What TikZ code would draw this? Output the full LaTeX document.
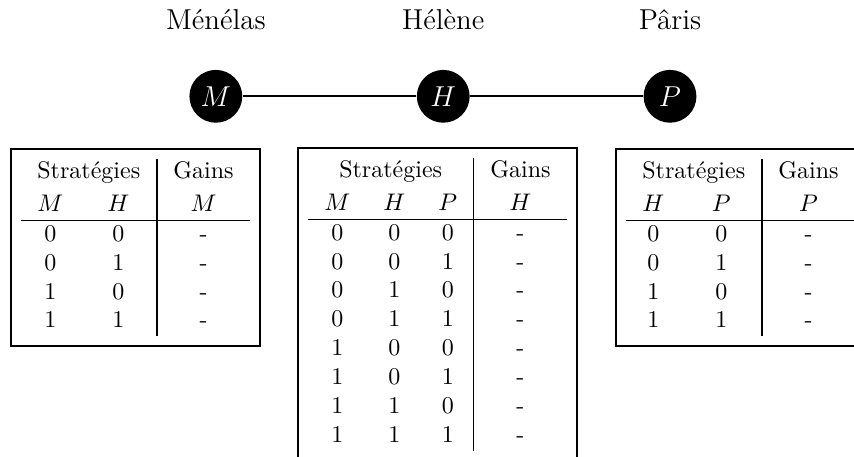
\documentclass[tikz,border=0pt]{standalone}
\usepackage{amsmath}
\usepackage{tikz}
\setlength{\tabcolsep}{6.9pt}
\setlength{\arrayrulewidth}{0.6pt}

\begin{document}
\begin{tikzpicture}[joueur/.style={circle,fill=black,text=white,minimum size=22pt,inner sep=0pt,font=\large},nom/.style={font=\large,anchor=base},gains/.style={draw,line width=0.8pt,inner sep=4pt,anchor=north}]
\clip (0,0) rectangle (12.504,-6.691);
\foreach \x/\j/\nom in %
{3.16/M/Ménélas,6.49/H/Hélène,9.81/P/Pâris} {
   \node[joueur] (\j) at (\x,-1.41) {$\j$};
   \node[nom] (nom\j) at (\x,-0.425) {\nom};
}
\draw[thick] (M) -- (H) -- (P);
\node[gains] (tabM) at (1.984,-2.167) {%
\begin{tabular}{cc|c}
\multicolumn{2}{c|}{Stratégies} & Gains\\[1.5pt]
$M$ & $H$ & $M$\\ \hline
0 & 0 & -\\
0 & 1 & -\\
1 & 0 & -\\
1 & 1 & -
\end{tabular}};
\node[gains] (tabH) at (6.405,-2.152) {%
\begin{tabular}{ccc|c}
\multicolumn{3}{c|}{Stratégies} & Gains\\[1.5pt]
$M$ & $H$ & $P$ & $H$\\ \hline
0 & 0 & 0 & -\\
0 & 0 & 1 & -\\
0 & 1 & 0 & -\\
0 & 1 & 1 & -\\
1 & 0 & 0 & -\\
1 & 0 & 1 & -\\
1 & 1 & 0 & -\\
1 & 1 & 1 & -
\end{tabular}};
\node[gains] (tabP) at (10.842,-2.167) {%
\begin{tabular}{cc|c}
\multicolumn{2}{c|}{Stratégies} & Gains\\[1.5pt]
$H$ & $P$ & $P$\\ \hline
0 & 0 & -\\
0 & 1 & -\\
1 & 0 & -\\
1 & 1 & -
\end{tabular}};
\end{tikzpicture}
\end{document}
